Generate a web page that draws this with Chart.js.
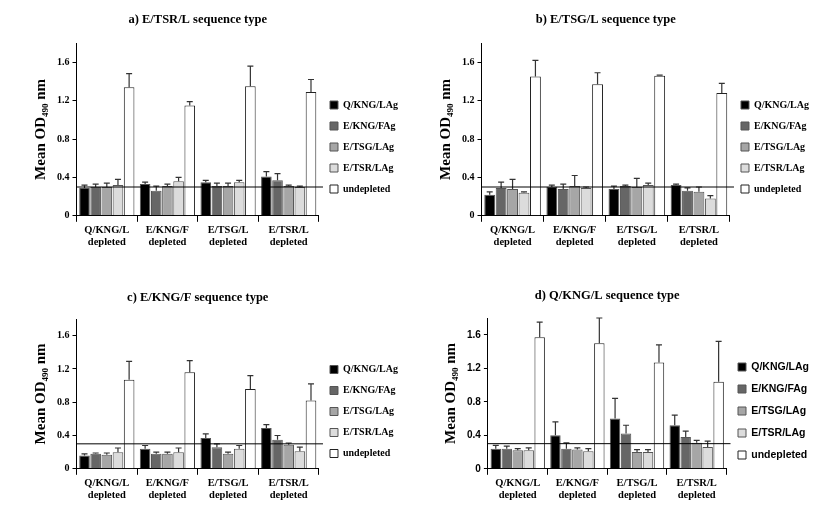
<!DOCTYPE html>
<html><head><meta charset="utf-8">
<script src="https://cdn.jsdelivr.net/npm/chart.js@4"></script>
<style>body{margin:0;background:#fff;width:827px;height:508px;position:relative;overflow:hidden}
.p{position:absolute}</style></head><body>
<div class="p" style="left:20px;top:5px;width:390px;height:250px"><canvas id="ca"></canvas></div>
<div class="p" style="left:425px;top:5px;width:400px;height:250px"><canvas id="cb"></canvas></div>
<div class="p" style="left:20px;top:283px;width:390px;height:225px"><canvas id="cc"></canvas></div>
<div class="p" style="left:430px;top:280px;width:395px;height:228px"><canvas id="cd"></canvas></div>
<script>
const groups = [["Q/KNG/L","depleted"],["E/KNG/F","depleted"],["E/TSG/L","depleted"],["E/TSR/L","depleted"]];
const seriesNames = ["Q/KNG/LAg","E/KNG/FAg","E/TSG/LAg","E/TSR/LAg","undepleted"];
const colors = ["#000000","#666666","#a6a6a6","#dcdcdc","#ffffff"];
const yTicks = [0,0.4,0.8,1.2,1.6];
const threshold = 0.3;
const titles = ["a) E/TSR/L sequence type","b) E/TSG/L sequence type","c) E/KNG/F sequence type","d) Q/KNG/L sequence type"];

const aVals = [[0.29,0.33,0.35,0.41],[0.30,0.26,0.31,0.37],[0.30,0.31,0.31,0.31],[0.32,0.36,0.35,0.30],[1.34,1.15,1.35,1.29]];
const aErr  = [[0.03,0.02,0.02,0.05],[0.03,0.05,0.03,0.07],[0.04,0.02,0.03,0.01],[0.06,0.04,0.02,0.01],[0.14,0.04,0.21,0.13]];
const bVals = [[0.22,0.30,0.28,0.32],[0.29,0.28,0.31,0.26],[0.28,0.31,0.30,0.25],[0.24,0.29,0.32,0.18],[1.45,1.37,1.46,1.28]];
const bErr  = [[0.03,0.02,0.03,0.01],[0.06,0.05,0.01,0.03],[0.10,0.11,0.09,0.05],[0.01,0.01,0.02,0.03],[0.17,0.12,0.005,0.10]];
const cVals = [[0.16,0.24,0.37,0.49],[0.18,0.18,0.26,0.35],[0.17,0.18,0.18,0.29],[0.20,0.20,0.24,0.21],[1.07,1.16,0.96,0.82]];
const cErr  = [[0.02,0.04,0.05,0.04],[0.01,0.02,0.04,0.05],[0.02,0.02,0.02,0.02],[0.05,0.05,0.04,0.05],[0.22,0.14,0.16,0.20]];
const dVals = [[0.24,0.40,0.60,0.52],[0.24,0.24,0.42,0.38],[0.22,0.23,0.20,0.31],[0.22,0.21,0.20,0.26],[1.57,1.50,1.27,1.04]];
const dErr  = [[0.04,0.16,0.24,0.12],[0.03,0.07,0.10,0.07],[0.02,0.02,0.03,0.03],[0.03,0.03,0.03,0.07],[0.18,0.30,0.21,0.48]];

const errPlugin = {
  id:'err',
  afterDatasetsDraw(chart){
    const ctx=chart.ctx, y=chart.scales.y, a=chart.chartArea;
    ctx.save();
    chart.data.datasets.forEach((ds,i)=>{
      chart.getDatasetMeta(i).data.forEach((el,j)=>{
        const top=y.getPixelForValue(ds.data[j]+ds.err[j]), base=y.getPixelForValue(ds.data[j]);
        ctx.strokeStyle='#333';ctx.lineWidth=1.2;
        ctx.beginPath();ctx.moveTo(el.x,base);ctx.lineTo(el.x,top);
        ctx.moveTo(el.x-3,top);ctx.lineTo(el.x+3,top);ctx.stroke();
      });
    });
    const ty=y.getPixelForValue(threshold);
    ctx.strokeStyle='#000';ctx.lineWidth=1;
    ctx.beginPath();ctx.moveTo(a.left,ty);ctx.lineTo(a.right+4,ty);ctx.stroke();
    const t=chart.options.plugins.myTitle;
    ctx.fillStyle='#000';ctx.font="bold 12.5px 'Liberation Serif', serif";ctx.textAlign='center';ctx.textBaseline='middle';
    ctx.fillText(t.text,(a.left+a.right)/2,t.y);
    ctx.restore();
  }
};

function make(id,title,vals,errs,serif,pad,ty,lf){
  const f = serif ? "'Liberation Serif', serif" : "'Liberation Sans', Arial, sans-serif";
  new Chart(document.getElementById(id),{
    type:'bar',
    data:{labels:groups,datasets:seriesNames.map((n,i)=>({label:n,data:vals[i],err:errs[i],backgroundColor:colors[i],borderColor:i==4?'#222':'#555',borderWidth:1,categoryPercentage:0.92,barPercentage:0.95}))},
    options:{responsive:true,maintainAspectRatio:false,animation:false,
      layout:{padding:pad},
      plugins:{
        myTitle:{text:title,y:ty},
        title:{display:false},
        legend:{position:'right',align:'center',labels:{boxWidth:8,boxHeight:8,padding:lf+1,color:'#000',font:{family:f,size:lf,weight:'bold'},useBorderRadius:false},
          onClick:null},
        tooltip:{enabled:false}},
      scales:{
        x:{grid:{display:true,drawOnChartArea:false,offset:true,tickLength:6,color:'#000'},border:{color:'#000'},
           ticks:{color:'#000',font:{family:"'Liberation Serif', serif",size:10.5,weight:'bold'},maxRotation:0,padding:2}},
        y:{min:0,max:1.8,afterBuildTicks:ax=>{ax.ticks=yTicks.map(v=>({value:v}));},
           grid:{display:true,drawOnChartArea:false,tickLength:4,color:'#000'},border:{color:'#000'},
           ticks:{color:'#000',font:{family:f,size:10,weight:'bold'},callback:v=>v===0?'0':v.toFixed(1)},
           title:{display:true,text:'Mean OD₄₉₀ nm',color:'#000',font:{family:"'Liberation Serif', serif",size:15,weight:'bold'}}}
      }},
    plugins:[errPlugin]
  });
}
make('ca',titles[0],aVals,aErr,true,{left:8,right:2,bottom:4,top:38},15,10);
make('cb',titles[1],bVals,bErr,true,{left:8,right:6,bottom:4,top:38},15,10);
make('cc',titles[2],cVals,cErr,true,{left:8,right:2,bottom:4,top:36},15,10);
make('cd',titles[3],dVals,dErr,false,{left:8,right:6,bottom:4,top:38},16,10.5);
</script></body></html>
